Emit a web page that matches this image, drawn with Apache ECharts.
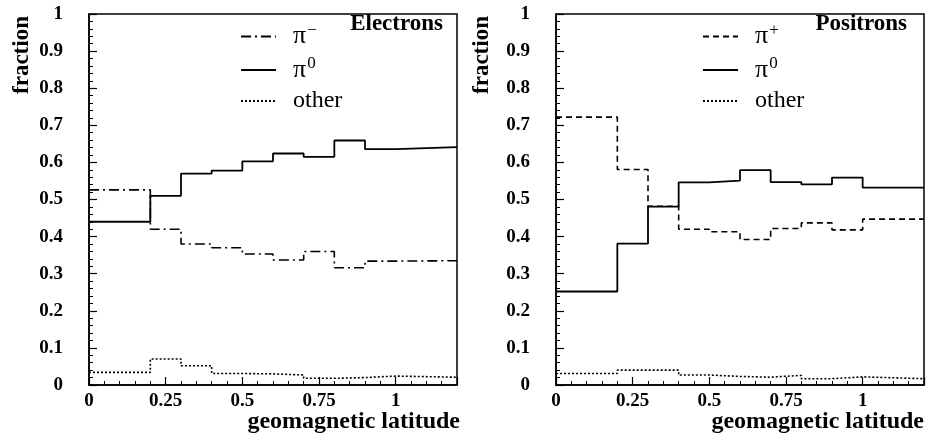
<!DOCTYPE html>
<html>
<head>
<meta charset="utf-8">
<script src="https://cdn.jsdelivr.net/npm/echarts@6/dist/echarts.min.js"></script>
<style>
  html, body { margin: 0; padding: 0; background: #fff; }
  #chart { width: 927px; height: 434px; }
</style>
</head>
<body>
<div id="chart"></div>
<script>
// bin edges of the geomagnetic latitude histogram
const binEdges = [0, 0.2, 0.3, 0.4, 0.5, 0.6, 0.7, 0.8, 0.9, 1.0, 1.2];

// electrons panel
const eleMinus = [0.526, 0.420, 0.380, 0.370, 0.353, 0.337, 0.360, 0.316, 0.334, 0.335];
const eleZero  = [0.440, 0.510, 0.570, 0.578, 0.603, 0.624, 0.615, 0.659, 0.636, 0.641];
const eleOther = [0.034, 0.070, 0.052, 0.031, 0.030, 0.027, 0.018, 0.020, 0.024, 0.021];

// positrons panel
const posPlus  = [0.722, 0.581, 0.482, 0.420, 0.413, 0.392, 0.422, 0.437, 0.418, 0.447];
const posZero  = [0.252, 0.381, 0.481, 0.546, 0.551, 0.579, 0.547, 0.541, 0.559, 0.532];
const posOther = [0.031, 0.040, 0.040, 0.027, 0.023, 0.021, 0.026, 0.017, 0.022, 0.017];

const xTicks = [0, 0.25, 0.5, 0.75, 1];

const serif = '"Liberation Serif", "DejaVu Serif", serif';

function steps(vals) {
  let pts = vals.map((v, i) => [binEdges[i], v]);
  pts.push([binEdges[binEdges.length - 1], vals[vals.length - 1]]);
  return pts;
}

function xAx(idx) {
  return {
    gridIndex: idx, type: 'value', min: 0, max: 1.2, interval: 0.25,
    axisLine: { lineStyle: { color: '#000', width: 1.5 } },
    axisTick: { inside: true, length: 8, lineStyle: { color: '#000', width: 1.2 } },
    minorTick: { show: true, splitNumber: 5, length: 4, lineStyle: { color: '#000', width: 1 } },
    splitLine: { show: false },
    axisLabel: {
      margin: 7, showMaxLabel: false, color: '#000',
      fontFamily: serif, fontWeight: 'bold', fontSize: 19,
      formatter: v => (xTicks.indexOf(+v.toFixed(2)) >= 0 ? String(+v.toFixed(2)) : '')
    }
  };
}

function yAx(idx) {
  return {
    gridIndex: idx, type: 'value', min: 0, max: 1, interval: 0.1,
    axisLine: { show: true, lineStyle: { color: '#000', width: 1.5 } },
    axisTick: { show: true, inside: true, length: 8, lineStyle: { color: '#000', width: 1.2 } },
    minorTick: { show: true, splitNumber: 5, length: 4, lineStyle: { color: '#000', width: 1 } },
    splitLine: { show: false },
    axisLabel: {
      margin: 26, color: '#000',
      fontFamily: serif, fontWeight: 'bold', fontSize: 19,
      formatter: v => String(+v.toFixed(1))
    }
  };
}

function histo(name, idx, vals, type, width) {
  return {
    name: name, type: 'line', step: 'end',
    xAxisIndex: idx, yAxisIndex: idx,
    symbol: 'none', silent: true, animation: false,
    itemStyle: { color: '#000' },
    lineStyle: { color: '#000', width: width, type: type },
    data: steps(vals)
  };
}

const legendNames = {
  'π-': '{p|π}{s|−}',
  'π+': '{p|π}{s|+}',
  'π0': '{p|π}{s|0}',
  'other': '{o|other}'
};

function legendAt(left, names) {
  return {
    orient: 'vertical', left: left, top: 22, padding: 0,
    itemWidth: 35, itemHeight: 14, itemGap: 6,
    selectedMode: false,
    itemStyle: { opacity: 0 },
    data: names,
    formatter: n => legendNames[n],
    textStyle: {
      padding: [0, 0, 0, 12],
      rich: {
        p: { fontFamily: serif, fontSize: 26, color: '#000', lineHeight: 22 },
        s: { fontFamily: serif, fontSize: 17, color: '#000', padding: [0, 0, 12, 1] },
        o: { fontFamily: serif, fontSize: 24, color: '#000', lineHeight: 22 }
      }
    }
  };
}

const titleStyle = { fontFamily: serif, fontWeight: 'bold', fontSize: 23, color: '#000' };

let myChart = echarts.init(document.getElementById('chart'));
let option = {
  backgroundColor: '#fff',
  animation: false,
  grid: [
    { left: 89, top: 14, width: 368, height: 371, show: true, borderColor: '#000', borderWidth: 1.5 },
    { left: 556, top: 14, width: 368, height: 371, show: true, borderColor: '#000', borderWidth: 1.5 }
  ],
  xAxis: [xAx(0), xAx(1)],
  yAxis: [yAx(0), yAx(1)],
  legend: [
    legendAt(240, ['π-', 'π0', 'other']),
    legendAt(702, ['π+', 'π0', 'other'])
  ],
  title: [
    { text: 'Electrons', right: 484, top: 13, padding: 0, textStyle: titleStyle },
    { text: 'Positrons', right: 20, top: 13, padding: 0, textStyle: titleStyle },
    { text: 'geomagnetic latitude', right: 467, top: 410, padding: 0, textStyle: Object.assign({}, titleStyle, { fontSize: 24 }) },
    { text: 'geomagnetic latitude', right: 3, top: 410, padding: 0, textStyle: Object.assign({}, titleStyle, { fontSize: 24 }) }
  ],
  graphic: [
    { type: 'text', x: 22, y: 55, rotation: Math.PI / 2,
      style: { text: 'fraction', font: 'bold 23px ' + serif, fill: '#000', textAlign: 'center', textVerticalAlign: 'middle' } },
    { type: 'text', x: 482, y: 55, rotation: Math.PI / 2,
      style: { text: 'fraction', font: 'bold 23px ' + serif, fill: '#000', textAlign: 'center', textVerticalAlign: 'middle' } }
  ],
  series: [
    histo('π-', 0, eleMinus, [10, 4, 2, 4], 1.6),
    histo('π0', 0, eleZero, 'solid', 1.8),
    histo('other', 0, eleOther, [2, 2], 1.6),
    histo('π+', 1, posPlus, [6, 4], 1.6),
    histo('π0', 1, posZero, 'solid', 1.8),
    histo('other', 1, posOther, [2, 2], 1.6)
  ]
};
myChart.setOption(option);
</script>
</body>
</html>
